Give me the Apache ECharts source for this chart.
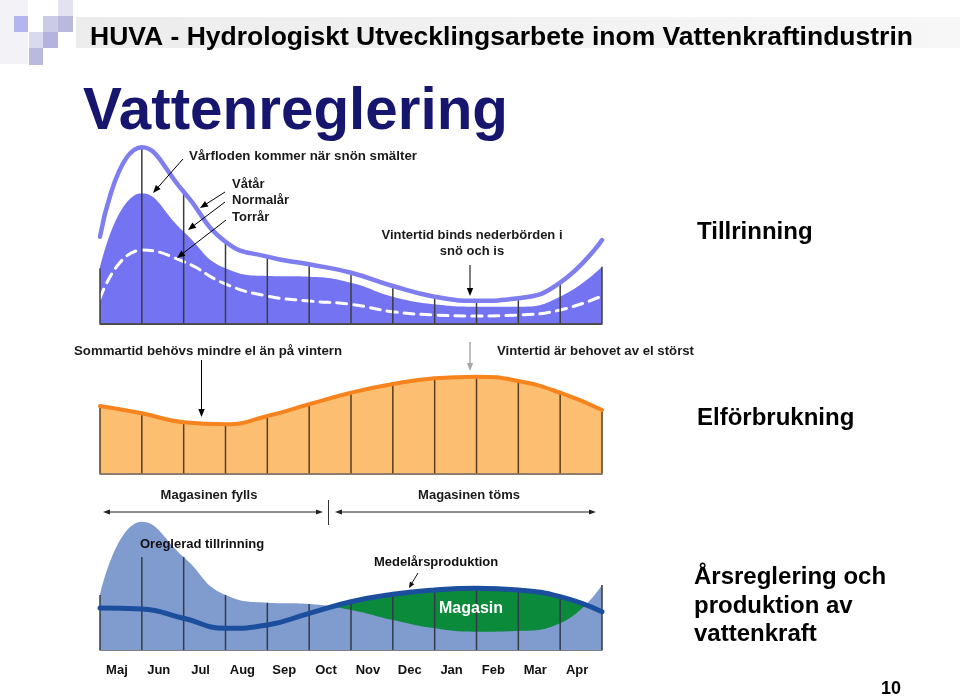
<!DOCTYPE html>
<html>
<head>
<meta charset="utf-8">
<script src="https://cdn.jsdelivr.net/npm/echarts@6/dist/echarts.min.js"></script>
<style>
html,body{margin:0;padding:0;background:#fff;}
#chart{width:960px;height:696px;}
</style>
</head>
<body>
<div id="chart"></div>
<script>
// ---- data (heights above each panel's baseline) ----
const months = ['Maj','Jun','Jul','Aug','Sep','Oct','Nov','Dec','Jan','Feb','Mar','Apr'];
const boundaries = [0,1,2,3,4,5,6,7,8,9,10,11,12];
// Tillrinning
const wetYear    = [86.6, 176, 131.6, 81.6, 66.6, 59, 50.6, 37.3, 26.6, 22.6, 25, 40.6, 83.3];
const normalYear = [55, 130, 91.6, 55, 47.3, 46.6, 40.6, 26.6, 19, 16.6, 16.6, 26.6, 56.6];
const dryYear    = [25, 73.3, 61.6, 39.3, 27.3, 22.3, 19, 11.6, 8.3, 7.3, 8.3, 13.3, 27.3];
const inflowDividers = [55, 176, 131.6, 81.6, 66.6, 59, 50.6, 37.3, 26.6, 22.6, 25, 40.6, 56.6];
// Elförbrukning
const demand = [67.3, 60, 51, 49, 57.3, 69, 80.6, 89.3, 95, 96.6, 92.3, 80.6, 63.3];
// Årsreglering
const unregulatedInflow = [55, 128.3, 93, 55, 47.3, 46, 40, 30, 21.7, 18.3, 19, 26.7, 65];
const meanProduction    = [42, 41, 31.7, 21.7, 25, 36.7, 48.3, 55.7, 60, 61.7, 60, 53.3, 38.3];
const regulationDividers = [55, 93, 93, 55, 47.3, 46, 48.3, 55.7, 60, 61.7, 60, 53.3, 65];

const pairs = arr => boundaries.map((x, i) => [x, arr[i]]);

const ARIAL = '"Liberation Sans", Arial, sans-serif';

const measureCtx = document.createElement('canvas').getContext('2d');
function fitScale(text, font, target) {
  measureCtx.font = font;
  const w = measureCtx.measureText(text).width;
  return w > 0 ? target / w : 1;
}

function txt(x, y, text, font, fill, align, targetWidth) {
  const el = {type:'text', x:x, y:y, z:50,
    style:{text:text, font:font, fill:fill || '#1a1a1a', align:align || 'left', verticalAlign:'middle',
           textAlign:align || 'left', textVerticalAlign:'middle'}};
  if (targetWidth) { el.scaleX = fitScale(text, font, targetWidth); }
  return el;
}
function head(x2, y2, ang, color, L, W) {
  const c = Math.cos(ang), s = Math.sin(ang);
  return {type:'polygon', z:50, shape:{points:[[x2,y2],[x2 - L*c + W*s, y2 - L*s - W*c],[x2 - L*c - W*s, y2 - L*s + W*c]]},
          style:{fill:color}};
}
function arrow(x1, y1, x2, y2, color, w, L, W) {
  color = color || '#000'; w = w || 1; L = L || 8; W = W || 3.2;
  const ang = Math.atan2(y2 - y1, x2 - x1);
  return [
    {type:'line', z:50, shape:{x1:x1, y1:y1, x2:x2 - L*0.8*Math.cos(ang), y2:y2 - L*0.8*Math.sin(ang)}, style:{stroke:color, lineWidth:w}},
    head(x2, y2, ang, color, L, W)
  ];
}
function dblArrow(x1, x2, y, color) {
  return [
    {type:'line', z:50, shape:{x1:x1+4, y1:y, x2:x2-4, y2:y}, style:{stroke:color, lineWidth:1}},
    head(x1, y, Math.PI, color, 7, 2.6),
    head(x2, y, 0, color, 7, 2.6)
  ];
}

const graphic = [
  // header decoration
  {type:'rect', z:0, shape:{x:0, y:0, width:28, height:64}, style:{fill:'#f3f3f7'}},
  {type:'rect', z:0, shape:{x:76, y:17, width:884, height:31},
   style:{fill:new echarts.graphic.LinearGradient(0,0,1,0,[{offset:0,color:'#ececec'},{offset:1,color:'#f7f7f7'}])}},
  {type:'rect', z:1, shape:{x:14, y:16, width:14, height:16}, style:{fill:'#b4b4ef'}},
  {type:'rect', z:1, shape:{x:43, y:16, width:15, height:16}, style:{fill:'#cbcbe6'}},
  {type:'rect', z:1, shape:{x:58, y:16, width:15, height:16}, style:{fill:'#b9b9de'}},
  {type:'rect', z:1, shape:{x:58, y:0, width:15, height:16}, style:{fill:'#e2e2f0'}},
  {type:'rect', z:1, shape:{x:29, y:32, width:14, height:16}, style:{fill:'#dadaee'}},
  {type:'rect', z:1, shape:{x:43, y:32, width:15, height:16}, style:{fill:'#b3b3de'}},
  {type:'rect', z:1, shape:{x:29, y:48, width:14, height:17}, style:{fill:'#babae0'}},
  txt(90, 37.5, 'HUVA - Hydrologiskt Utvecklingsarbete inom Vattenkraftindustrin', 'bold 26px ' + ARIAL, '#000', 'left', 823),
  txt(83, 112, 'Vattenreglering', 'bold 60px ' + ARIAL, '#16166e', 'left', 425),
  // Tillrinning panel
  txt(189, 156, 'Vårfloden kommer när snön smälter', 'bold 13px ' + ARIAL, '#1a1a1a', 'left', 228),
  txt(232, 184, 'Våtår', 'bold 13px ' + ARIAL),
  txt(232, 200, 'Normalår', 'bold 13px ' + ARIAL),
  txt(232, 217, 'Torrår', 'bold 13px ' + ARIAL),
  txt(472, 235, 'Vintertid binds nederbörden i', 'bold 13px ' + ARIAL, '#1a1a1a', 'center'),
  txt(472, 251, 'snö och is', 'bold 13px ' + ARIAL, '#1a1a1a', 'center'),
  txt(697, 232, 'Tillrinning', 'bold 24px ' + ARIAL, '#000'),
  ...arrow(183, 159, 153, 193),
  ...arrow(225, 192, 200, 208),
  ...arrow(225, 202, 188, 230),
  ...arrow(226, 220, 177, 258),
  ...arrow(470, 265, 470, 296),
  // Elförbrukning panel
  txt(74, 351, 'Sommartid behövs mindre el än på vintern', 'bold 13px ' + ARIAL, '#1a1a1a', 'left', 268),
  txt(497, 351, 'Vintertid är behovet av el störst', 'bold 13px ' + ARIAL, '#1a1a1a', 'left', 197),
  txt(697, 418, 'Elförbrukning', 'bold 24px ' + ARIAL, '#000'),
  ...arrow(201.5, 360, 201.5, 417),
  ...arrow(470, 342, 470, 371, '#a8a8a8', 1.5),
  // Årsreglering panel
  txt(209, 495, 'Magasinen fylls', 'bold 13px ' + ARIAL, '#1a1a1a', 'center'),
  txt(469, 495, 'Magasinen töms', 'bold 13px ' + ARIAL, '#1a1a1a', 'center'),
  ...dblArrow(103, 323, 512, '#222'),
  ...dblArrow(335, 596, 512, '#222'),
  {type:'line', z:50, shape:{x1:328.5, y1:500, x2:328.5, y2:525}, style:{stroke:'#333', lineWidth:1}},
  txt(140, 544, 'Oreglerad tillrinning', 'bold 13px ' + ARIAL, '#111'),
  txt(374, 562, 'Medelårsproduktion', 'bold 13px ' + ARIAL, '#111'),
  ...arrow(418, 573, 409, 588, '#111', 1, 6, 2.6),
  txt(471, 609, 'Magasin', 'bold 16px ' + ARIAL, '#ffffff', 'center'),
  txt(694, 577, 'Årsreglering och', 'bold 24px ' + ARIAL, '#000'),
  txt(694, 606, 'produktion av', 'bold 24px ' + ARIAL, '#000'),
  txt(694, 634, 'vattenkraft', 'bold 24px ' + ARIAL, '#000'),
  txt(891, 689, '10', 'bold 18px ' + ARIAL, '#000', 'center')
];

const xVal = (gi, lineColor, lw) => ({
  type:'value', gridIndex:gi, min:0, max:12, interval:1,
  axisLine:{show:true, onZero:false, lineStyle:{color:lineColor, width:lw}},
  axisTick:{show:false}, axisLabel:{show:false}, splitLine:{show:false}
});
const yVal = (gi, max) => ({type:'value', gridIndex:gi, min:0, max:max, show:false, splitLine:{show:false}});

const areaLine = (xi, data, fill, z) => ({
  type:'line', xAxisIndex:xi, yAxisIndex:xi, data:pairs(data), smooth:0.5, symbol:'none', z:z,
  lineStyle:{width:0}, areaStyle:{color:fill, opacity:1}, silent:true
});
const strokeLine = (xi, data, color, w, z, dash) => ({
  type:'line', xAxisIndex:xi, yAxisIndex:xi, data:pairs(data), smooth:0.5, symbol:'none', z:z,
  lineStyle:{width:w, color:color, type:dash || 'solid', cap:'round'}, silent:true
});
const dividers = (xi, data, color, z) => ({
  type:'bar', xAxisIndex:xi, yAxisIndex:xi, data:pairs(data), barWidth:1.5, z:z, clip:false,
  itemStyle:{color:color}, silent:true
});

const option = {
  animation:false,
  backgroundColor:'#ffffff',
  grid:[
    {left:100, top:143.3, width:502, height:180},
    {left:100, top:373.3, width:502, height:100},
    {left:100, top:510, width:502, height:140}
  ],
  xAxis:[
    xVal(0, '#111', 1.5),
    xVal(1, '#8b7b6b', 2),
    xVal(2, '#555', 1.5),
    {type:'category', gridIndex:2, data:months, boundaryGap:true, position:'bottom',
     axisLine:{show:false}, axisTick:{show:false}, splitLine:{show:false},
     axisLabel:{show:true, margin:14, padding:[0,8,0,0], color:'#111', fontFamily:'Liberation Sans', fontWeight:'bold', fontSize:13}}
  ],
  yAxis:[yVal(0,180), yVal(1,100), yVal(2,140)],
  series:[
    areaLine(0, normalYear, '#7474f3', 2),
    strokeLine(0, dryYear, '#ffffff', 3, 3, [10,7]),
    dividers(0, inflowDividers, '#3c3c3c', 4),
    strokeLine(0, wetYear, '#7e7ef1', 4.5, 5),

    areaLine(1, demand, '#fcbf71', 2),
    dividers(1, demand, '#5a3d1c', 3),
    strokeLine(1, demand, '#f6831d', 4, 4),

    areaLine(2, meanProduction, '#0a8a3a', 2),
    areaLine(2, unregulatedInflow, '#809bce', 3),
    dividers(2, regulationDividers, '#333a48', 4),
    strokeLine(2, meanProduction, '#1c4e9e', 5, 5)
  ],
  graphic:graphic
};

const chart = echarts.init(document.getElementById('chart'), null, {renderer:'canvas'});
chart.setOption(option);
</script>
</body>
</html>
